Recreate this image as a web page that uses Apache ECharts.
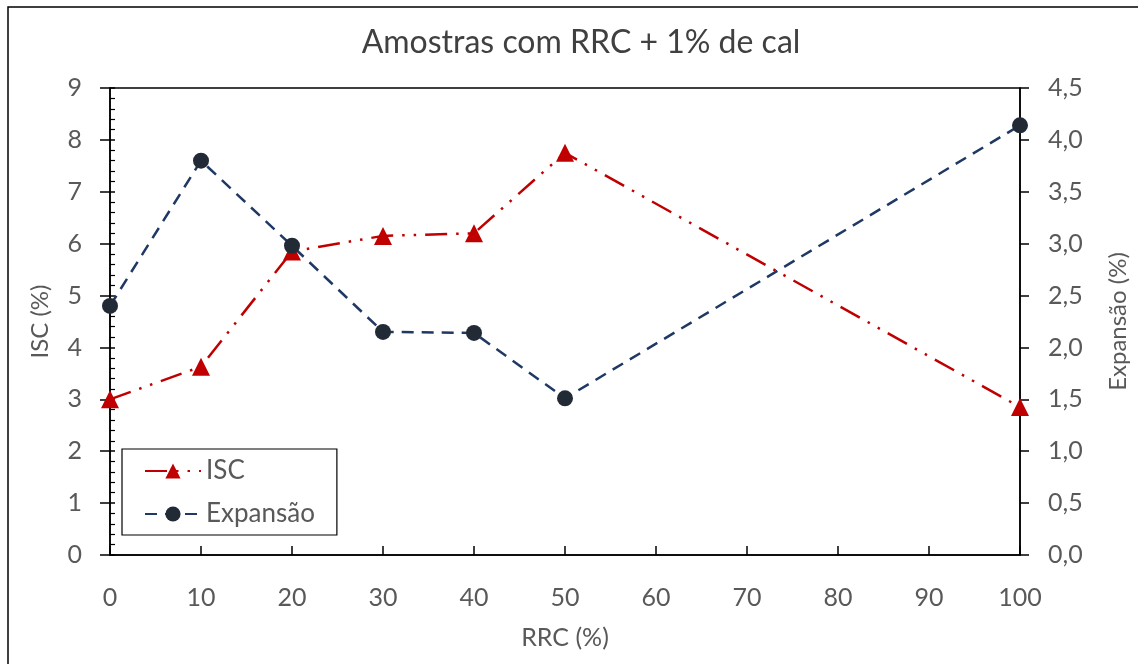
<!DOCTYPE html>
<html>
<head>
<meta charset="utf-8">
<title>Amostras com RRC + 1% de cal</title>
<script src="https://cdn.jsdelivr.net/npm/echarts@6/dist/echarts.min.js"></script>
<style>
  html, body { margin: 0; padding: 0; background: #fff; }
  #chart { width: 1138px; height: 664px; }
</style>
</head>
<body>
<div id="chart"></div>
<script>
// RRC content (%) of each sample
const rrc = [0, 10, 20, 30, 40, 50, 100];
// ISC (%) per sample
const isc = [3.0, 3.63, 5.85, 6.15, 6.2, 7.75, 2.85];
// Expansion (%) per sample
const expansao = [2.40, 3.80, 2.98, 2.15, 2.14, 1.51, 4.14];

const FONT = 'Lato';
const TEXT = '#595959';

const pairs = (xs, ys) => xs.map((x, i) => [x, ys[i]]);
const comma = v => v.toFixed(1).replace('.', ',');

const chart = echarts.init(document.getElementById('chart'), null, { renderer: 'canvas' });

chart.setOption({
  backgroundColor: '#fff',
  animation: false,
  textStyle: { fontFamily: FONT, color: TEXT },
  graphic: [{
    type: 'rect',
    shape: { x: 8, y: 7, width: 1200, height: 720 },
    style: { fill: 'none', stroke: '#000', lineWidth: 1.5 },
    z: -1
  }],
  title: {
    text: 'Amostras com RRC + 1% de cal',
    left: 576, top: 22, textAlign: 'center',
    textStyle: { fontFamily: FONT, fontSize: 32, fontWeight: 'normal', color: '#404040' }
  },
  grid: {
    left: 110, top: 88, width: 910, height: 467,
    outerBoundsMode: 'none',
    containLabel: false,
    show: true, borderColor: '#000', borderWidth: 1.5, backgroundColor: 'transparent'
  },
  legend: {
    left: 122, top: 449,
    orient: 'vertical',
    backgroundColor: '#fff',
    borderColor: '#000', borderWidth: 1.2, borderRadius: 0,
    padding: [9, 22, 8, 22],
    itemWidth: 56, itemHeight: 19, itemGap: 17,
    textStyle: { fontFamily: FONT, fontSize: 26, color: TEXT },
    data: ['ISC', 'Expansão']
  },
  xAxis: {
    type: 'value', min: 0, max: 100, interval: 10,
    name: 'RRC (%)', nameLocation: 'middle', nameGap: 70,
    nameTextStyle: { fontFamily: FONT, fontSize: 25, color: TEXT },
    axisLine: { show: true, onZero: false, lineStyle: { color: '#000', width: 1.5 } },
    axisTick: { show: true, inside: true, length: 9, lineStyle: { color: '#000', width: 1.5 } },
    axisLabel: { fontFamily: FONT, fontSize: 25, color: TEXT, margin: 30 },
    splitLine: { show: false }
  },
  yAxis: [{
    type: 'value', position: 'left', min: 0, max: 9, interval: 1,
    name: 'ISC (%)', nameLocation: 'middle', nameGap: 58, nameRotate: 90,
    nameTextStyle: { fontFamily: FONT, fontSize: 24, color: TEXT },
    axisLine: { show: true, lineStyle: { color: '#000', width: 1.5 } },
    axisTick: { show: true, inside: false, length: 10, lineStyle: { color: '#000', width: 1.5 } },
    axisLabel: { fontFamily: FONT, fontSize: 25, color: TEXT, margin: 28 },
    splitLine: { show: false }
  }, {
    type: 'value', position: 'right', min: 0, max: 4.5, interval: 0.5,
    name: 'Expansão (%)', nameLocation: 'middle', nameGap: 86, nameRotate: 90,
    nameTextStyle: { fontFamily: FONT, fontSize: 24, color: TEXT },
    axisLine: { show: true, lineStyle: { color: '#000', width: 1.5 } },
    axisTick: { show: true, inside: false, length: 9, lineStyle: { color: '#000', width: 1.5 } },
    axisLabel: { fontFamily: FONT, fontSize: 25, color: TEXT, margin: 28, formatter: comma },
    splitLine: { show: false }
  }, {
    // inner ticks and minor ticks on the left scale
    type: 'value', position: 'left', min: 0, max: 9, interval: 1,
    axisLine: { show: false },
    axisTick: { show: true, inside: true, length: 5, lineStyle: { color: '#000', width: 1.5 } },
    minorTick: { show: true, splitNumber: 5, length: 5, lineStyle: { color: '#000', width: 1.2 } },
    axisLabel: { show: false },
    splitLine: { show: false }
  }],
  series: [{
    name: 'ISC',
    type: 'line',
    yAxisIndex: 0,
    data: pairs(rrc, isc),
    symbol: 'triangle', symbolSize: 18,
    itemStyle: { color: '#C00000' },
    lineStyle: { color: '#C00000', width: 2.5, type: [22, 9, 2.5, 9, 2.5, 9] },
    z: 3
  }, {
    name: 'Expansão',
    type: 'line',
    yAxisIndex: 1,
    data: pairs(rrc, expansao),
    symbol: 'circle', symbolSize: 16,
    itemStyle: { color: '#222A35' },
    lineStyle: { color: '#1F3864', width: 2.5, type: [12, 8] },
    z: 4
  }]
});
</script>
</body>
</html>
